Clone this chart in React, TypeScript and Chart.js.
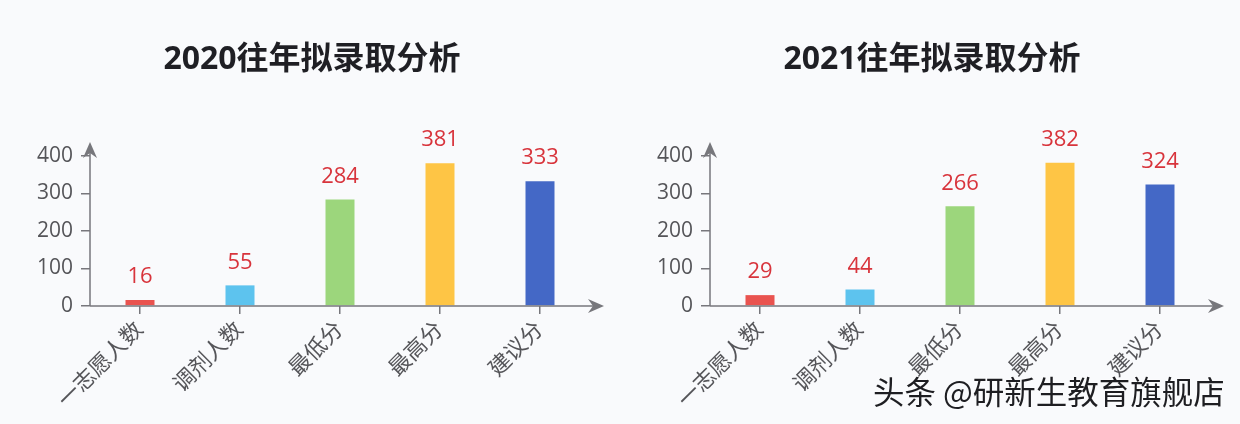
import { useEffect, useRef } from "react";
import { Chart, registerables } from "chart.js";

Chart.register(...registerables);

const categories = ["一志愿人数", "调剂人数", "最低分", "最高分", "建议分"];
const values2020 = [16, 55, 284, 381, 333];
const values2021 = [29, 44, 266, 382, 324];
const yTickValues = [0, 100, 200, 300, 400];
const titles = ["2020往年拟录取分析", "2021往年拟录取分析"];
const barColors = ["#e9534f", "#5dc3ee", "#9cd67c", "#fec545", "#4468c6"];
const watermark = "头条 @研新生教育旗舰店";

const FONT = '"Open Sans", "Noto Sans CJK SC", sans-serif';
const AXIS = "#77777c";

const valueLabels = {
  id: "valueLabels",
  afterDatasetsDraw(chart: any) {
    const ctx = chart.ctx;
    const meta = chart.getDatasetMeta(0);
    const data = chart.data.datasets[0].data;
    ctx.save();
    ctx.font = `22px ${FONT}`;
    ctx.fillStyle = "#d8343c";
    ctx.textAlign = "center";
    ctx.textBaseline = "bottom";
    meta.data.forEach((el: any, i: number) => {
      ctx.fillText(String(data[i]), el.x, el.y - 12);
    });
    ctx.restore();
  },
};

const panelTitle = {
  id: "panelTitle",
  afterDraw(chart: any, _args: any, opts: any) {
    const ctx = chart.ctx;
    ctx.save();
    ctx.font = `bold 32px ${FONT}`;
    ctx.fillStyle = "#1f1f24";
    ctx.textAlign = "center";
    ctx.textBaseline = "middle";
    ctx.fillText(opts.text, 312, 60);
    ctx.restore();
  },
};

const axisArrows = {
  id: "axisArrows",
  afterDraw(chart: any) {
    const { ctx, chartArea } = chart;
    const { left, right, top, bottom } = chartArea;
    ctx.save();
    ctx.strokeStyle = AXIS;
    ctx.fillStyle = AXIS;
    ctx.lineWidth = 1.5;
    ctx.beginPath();
    ctx.moveTo(left, bottom);
    ctx.lineTo(left, top - 8);
    ctx.moveTo(left, bottom);
    ctx.lineTo(right + 8, bottom);
    ctx.stroke();
    const ty = top - 14;
    ctx.beginPath();
    ctx.moveTo(left, ty);
    ctx.lineTo(left + 7, ty + 16);
    ctx.lineTo(left, ty + 11);
    ctx.lineTo(left - 7, ty + 16);
    ctx.closePath();
    ctx.fill();
    const tx = right + 14;
    ctx.beginPath();
    ctx.moveTo(tx, bottom);
    ctx.lineTo(tx - 16, bottom - 7);
    ctx.lineTo(tx - 11, bottom);
    ctx.lineTo(tx - 16, bottom + 7);
    ctx.closePath();
    ctx.fill();
    ctx.restore();
  },
};

function makeConfig(title: string, values: number[]): any {
  return {
    type: "bar",
    data: {
      labels: categories,
      datasets: [
        {
          data: values,
          backgroundColor: barColors,
          barPercentage: 0.29,
          categoryPercentage: 1,
        },
      ],
    },
    options: {
      animation: false,
      responsive: false,
      devicePixelRatio: 1,
      layout: { padding: { left: 0, right: 30, top: 156, bottom: 0 } },
      plugins: {
        legend: { display: false },
        tooltip: { enabled: false },
        title: { display: false },
        panelTitle: { text: title },
      },
      scales: {
        x: {
          offset: true,
          border: { display: false },
          grid: {
            offset: false,
            drawOnChartArea: false,
            drawTicks: true,
            tickLength: 8,
            color: AXIS,
            lineWidth: 1.5,
          },
          ticks: {
            minRotation: 45,
            maxRotation: 45,
            padding: 3,
            color: "#555559",
            font: { family: FONT, size: 22 },
          },
          afterFit(scale: any) {
            scale.height = 118;
          },
        },
        y: {
          min: 0,
          max: 400,
          border: { display: false },
          afterBuildTicks(scale: any) {
            scale.ticks = yTickValues.map((v) => ({ value: v }));
          },
          grid: {
            drawOnChartArea: false,
            drawTicks: true,
            tickLength: 9,
            color: AXIS,
            lineWidth: 1.5,
          },
          ticks: {
            padding: 8,
            color: "#555559",
            font: { family: FONT, size: 21 },
          },
          afterFit(scale: any) {
            scale.width = 90;
          },
        },
      },
    },
    plugins: [valueLabels, axisArrows, panelTitle],
  };
}

function BarPanel({ title, values }: { title: string; values: number[] }) {
  const ref = useRef<HTMLCanvasElement | null>(null);
  useEffect(() => {
    if (!ref.current) return;
    const chart = new Chart(ref.current, makeConfig(title, values));
    return () => chart.destroy();
  }, [title, values]);
  return <canvas ref={ref} width={620} height={424} style={{ display: "block" }} />;
}

export default function App() {
  useEffect(() => {
    document.body.style.margin = "0";
    document.body.style.background = "#f9fafc";
  }, []);
  return (
    <div
      style={{
        position: "relative",
        width: 1240,
        height: 424,
        display: "flex",
        background: "#f9fafc",
        overflow: "hidden",
      }}
    >
      <BarPanel title={titles[0]} values={values2020} />
      <BarPanel title={titles[1]} values={values2021} />
      <div
        style={{
          position: "absolute",
          left: 873,
          top: 368,
          fontFamily: '"Noto Sans CJK SC", sans-serif',
          fontSize: 31.5,
          lineHeight: "44px",
          color: "#1e1e22",
          whiteSpace: "nowrap",
          textShadow: "0 0 3px #fff",
        }}
      >
        {watermark}
      </div>
    </div>
  );
}
